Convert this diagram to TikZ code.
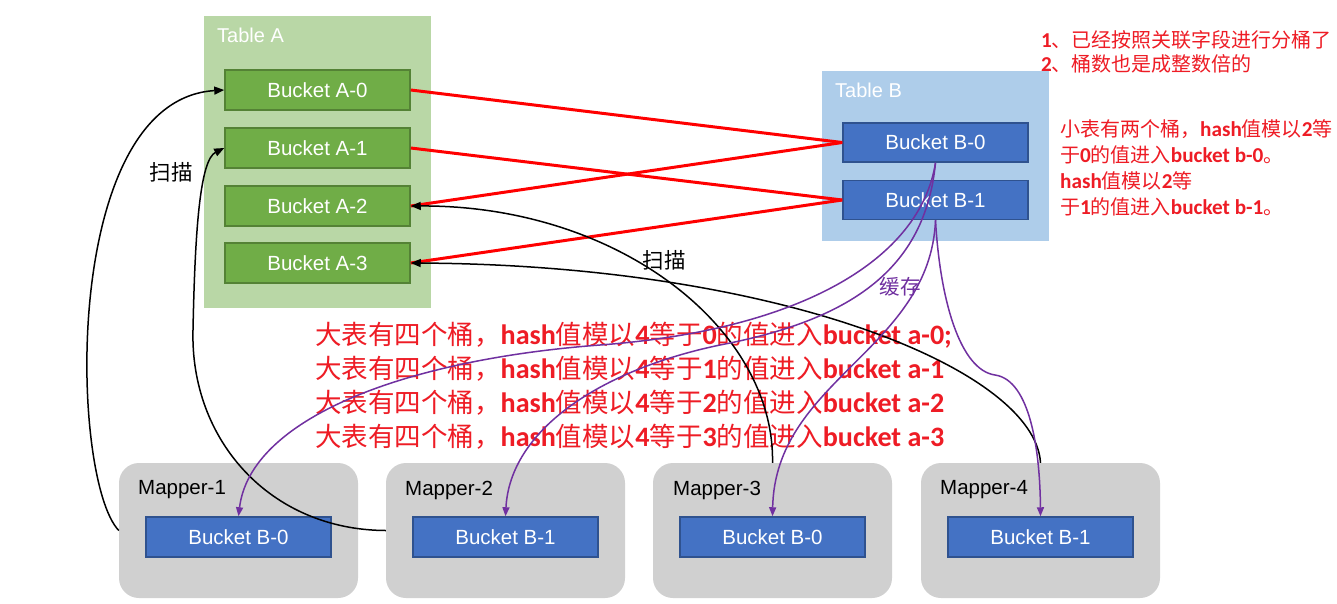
\documentclass[tikz,border=0pt]{standalone}
\usepackage{fontspec}
\setmainfont{Liberation Sans}
\newfontfamily\cjk{Noto Sans CJK SC}
\newfontfamily\carl[Scale=1.06]{Carlito}
\usetikzlibrary{arrows.meta}
\definecolor{tagreen}{HTML}{B9D7A6}
\definecolor{bkgreen}{HTML}{70AD47}
\definecolor{bkgreenb}{HTML}{548235}
\definecolor{tbblue}{HTML}{AECDEA}
\definecolor{bkblue}{HTML}{4472C4}
\definecolor{bkblueb}{HTML}{2F528F}
\definecolor{mgrey}{HTML}{D0D0D0}
\definecolor{lred}{HTML}{FF0000}
\definecolor{tred}{HTML}{EE1C25}
\definecolor{pur}{HTML}{7030A0}
\newcommand{\hb}[1]{{\carl\bfseries #1}}
\tikzset{
  tablebg/.style={fill=#1, draw=none, inner sep=0, anchor=center},
  gbucket/.style={fill=bkgreen, draw=bkgreenb, line width=1.5pt, minimum width=185pt, minimum height=40pt, inner sep=0,
    text=white, font=\fontsize{20.5}{22}\selectfont},
  bbucket/.style={fill=bkblue, draw=bkblueb, line width=1.5pt, minimum width=185pt, minimum height=39pt, inner sep=0,
    text=white, font=\fontsize{20.5}{22}\selectfont},
  mapperbox/.style={fill=mgrey, draw=none, rounded corners=20pt, minimum width=239pt, minimum height=135pt, inner sep=0},
  maplabel/.style={anchor=west, inner sep=0, font=\fontsize{20.5}{22}\selectfont},
  tlabel/.style={anchor=west, inner sep=0, text=white, font=\fontsize{20}{22}\selectfont},
  redline/.style={draw=lred, line width=3pt},
  scanline/.style={draw=black, line width=1.5pt, -{Triangle[length=10pt,width=8pt]}},
  cacheline/.style={draw=pur, line width=1.5pt, -{Triangle[length=9pt,width=7pt]}},
  bigtxt/.style={anchor=west, inner sep=0, text=tred, font=\fontsize{26.5}{30}\selectfont\cjk},
  smalltxt/.style={anchor=west, inner sep=0, text=tred, font=\fontsize{20}{22}\selectfont\cjk},
  cjklabel/.style={inner sep=0, font=\fontsize{21.5}{22}\selectfont\cjk},
}
\begin{document}
\begin{tikzpicture}[x=1pt,y=-1pt]
\useasboundingbox (0,0) rectangle (1337,603);
\fill[white] (0,0) rectangle (1337,603);
% Table A
\node[tablebg=tagreen, minimum width=227pt, minimum height=292pt] (tableA) at (317.5,162) {};
\node[tlabel] (tAlab) at (217,35) {Table A};
\node[gbucket] (a0) at (317.5,90) {Bucket A-0};
\node[gbucket] (a1) at (317.5,148) {Bucket A-1};
\node[gbucket] (a2) at (317.5,206) {Bucket A-2};
\node[gbucket] (a3) at (317.5,263) {Bucket A-3};
% Table B
\node[tablebg=tbblue, minimum width=227pt, minimum height=170pt] (tableB) at (935.5,156) {};
\node[tlabel] (tBlab) at (835,90) {Table B};
\node[bbucket] (b0) at (935.5,142.5) {Bucket B-0};
\node[bbucket] (b1) at (935.5,200) {Bucket B-1};
% Mappers
\node[mapperbox] (m1) at (238.5,530.5) {};
\node[mapperbox] (m2) at (505.5,530.5) {};
\node[mapperbox] (m3) at (772.5,530.5) {};
\node[mapperbox] (m4) at (1040.5,530.5) {};
\node[maplabel] (ml1) at (138,490) {Mapper-1};
\node[maplabel] (ml2) at (405,490) {Mapper-2};
\node[maplabel] (ml3) at (673,490) {Mapper-3};
\node[maplabel] (ml4) at (940,490) {Mapper-4};
\node[bbucket, minimum height=40pt] (mb1) at (238.5,537) {Bucket B-0};
\node[bbucket, minimum height=40pt] (mb2) at (505.5,537) {Bucket B-1};
\node[bbucket, minimum height=40pt] (mb3) at (772.5,537) {Bucket B-0};
\node[bbucket, minimum height=40pt] (mb4) at (1040.5,537) {Bucket B-1};
% red text
\node[bigtxt] (r1) at (315,335) {大表有四个桶，\hb{hash}值模以\hb{4}等于\hb{0}的值进入\hb{bucket a-0;}};
\node[bigtxt] (r2) at (315,369) {大表有四个桶，\hb{hash}值模以\hb{4}等于\hb{1}的值进入\hb{bucket a-1}};
\node[bigtxt] (r3) at (315,403) {大表有四个桶，\hb{hash}值模以\hb{4}等于\hb{2}的值进入\hb{bucket a-2}};
\node[bigtxt] (r4) at (315,437) {大表有四个桶，\hb{hash}值模以\hb{4}等于\hb{3}的值进入\hb{bucket a-3}};
\node[smalltxt] (n1) at (1041,40) {\hb{1}、已经按照关联字段进行分桶了};
\node[smalltxt] (n2) at (1041,64) {\hb{2}、桶数也是成整数倍的};
\node[smalltxt] (s1) at (1060,129) {小表有两个桶，\hb{hash}值模以\hb{2}等};
\node[smalltxt] (s2) at (1060,155) {于\hb{0}的值进入\hb{bucket b-0}。};
\node[smalltxt] (s3) at (1060,181) {\hb{hash}值模以\hb{2}等};
\node[smalltxt] (s4) at (1060,207) {于\hb{1}的值进入\hb{bucket b-1}。};
% red lines
\draw[redline] (a0.east) -- (b0.west);
\draw[redline] (a1.east) -- (b1.west);
\draw[redline] (b0.west) -- (a2.east);
\draw[redline] (b1.west) -- (a3.east);
% scan curves
\draw[scanline] (m1.west) .. controls (70,480) and (60,100) .. (a0.west);
\draw[scanline] (m2.west) .. controls (270,530) and (190,440) .. (193,330) .. controls (195,230) and (200,160) .. (a1.west);
\draw[scanline] (m3.north) .. controls (775,330) and (620,205) .. (a2.east);
\draw[scanline] (m4.north) .. controls (1035,370) and (780,265) .. (a3.east);
% cache curves
\draw[cacheline] (b0.south) .. controls (920,260) and (800,330) .. (600,345) .. controls (400,360) and (250,420) .. (mb1.north);
\draw[cacheline] (b0.south) .. controls (925,270) and (850,320) .. (720,345) .. controls (600,370) and (510,430) .. (mb2.north);
\draw[cacheline] (b1.south) .. controls (930,350) and (775,380) .. (mb3.north);
\draw[cacheline] (b1.south) .. controls (940,300) and (960,370) .. (995,375) .. controls (1030,380) and (1040,450) .. (mb4.north);
% labels
\node[cjklabel] (scan1) at (171,172) {扫描};
\node[cjklabel] (scan2) at (664,260) {扫描};
\node[cjklabel, text=pur, font=\fontsize{20.5}{22}\selectfont\cjk] (cache) at (900,287) {缓存};
\end{tikzpicture}
\end{document}
